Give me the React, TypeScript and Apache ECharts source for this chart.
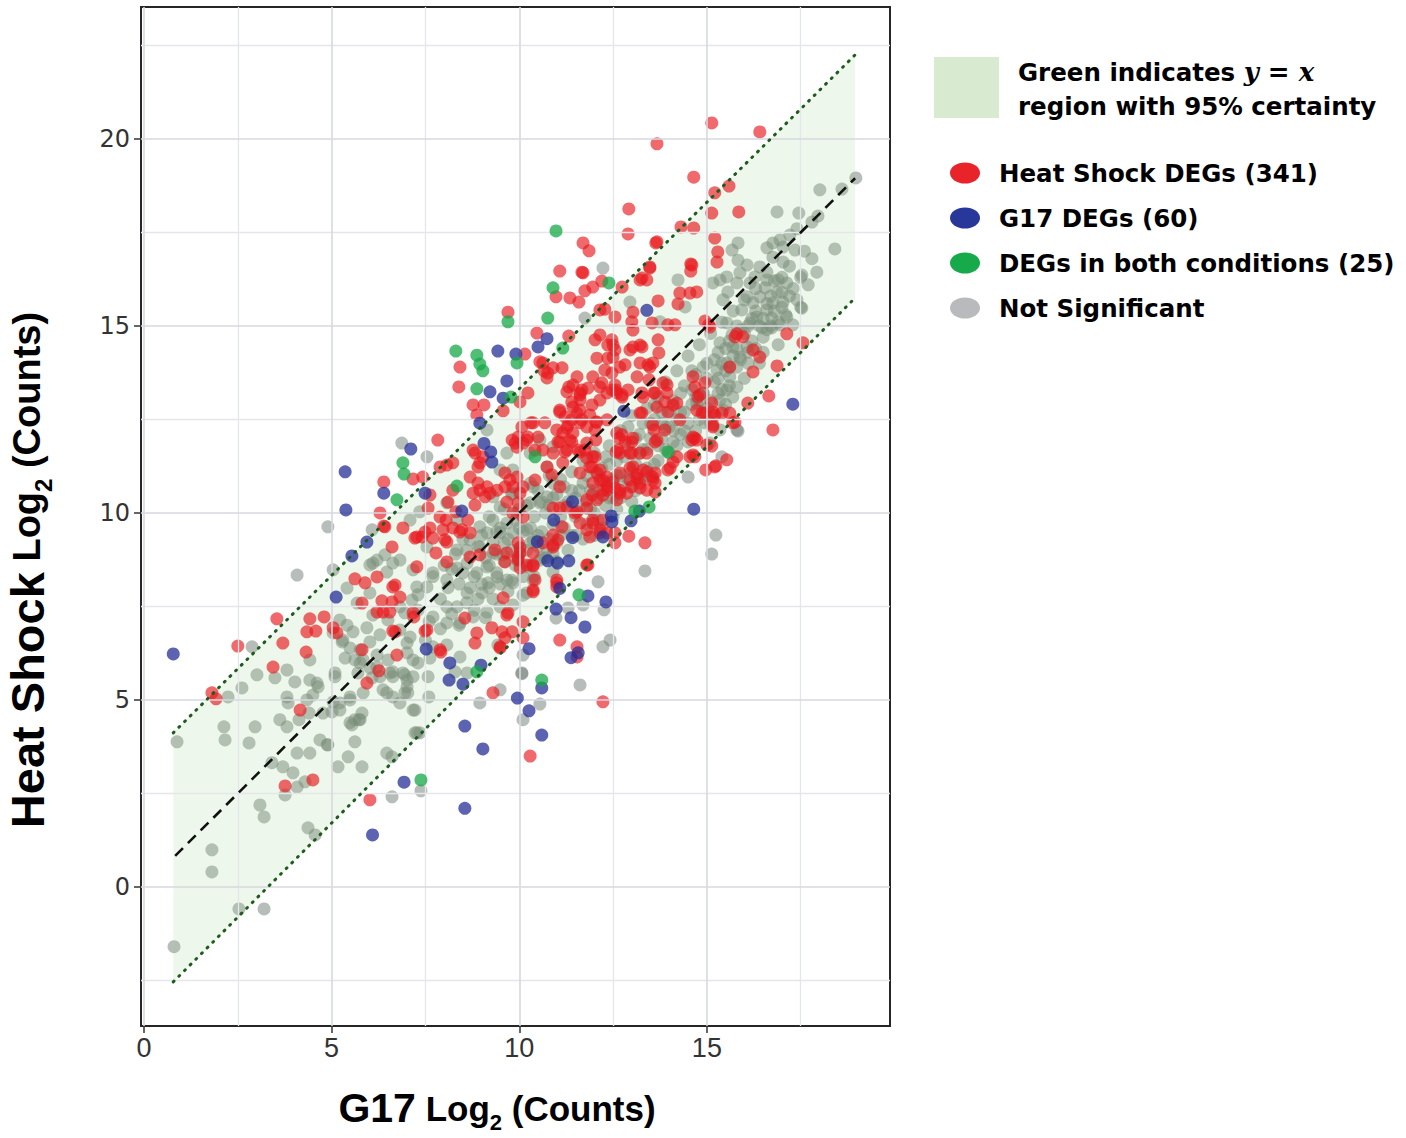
import React, { useEffect, useRef } from "react";
import * as echarts from "echarts";

// ---------- axes ----------
const xRange = [-0.08, 19.88];
const yRange = [-3.72, 23.53];
const xTickValues = [0, 5, 10, 15];
const yTickValues = [0, 5, 10, 15, 20];
const xMinorGrid = [2.5, 7.5, 12.5, 17.5];
const yMinorGrid = [-2.5, 2.5, 7.5, 12.5, 17.5, 22.5];

// ---------- y = x region ----------
const bandX = [0.78, 18.95];
const bandUpper = [4.12, 22.25];
const bandLower = [-2.54, 15.75];
const identityX = [0.83, 18.95];
const identityY = [0.83, 18.95];

// ---------- series names ----------
const nameHS = "Heat Shock DEGs (341)";
const nameG17 = "G17 DEGs (60)";
const nameBoth = "DEGs in both conditions (25)";
const nameNS = "Not Significant";

// ---------- points (G17 log2, Heat Shock log2) ----------
const heatShockDEGs: number[][] = [
  [13.67,19.87],[15.13,20.43],[16.41,20.19],[14.65,18.98],[15.21,18.56],[15.59,18.74],[15.13,18.02],[15.85,18.05],[12.92,18.13],[12.9,17.46],
  [13.67,17.25],[14.31,17.65],[14.65,17.62],[15.21,17.35],[15.29,16.98],[15.27,16.71],[14.57,16.66],[14.57,16.47],[13.48,16.55],[13.22,16.23],
  [13.4,16.23],[11.7,17.22],[11.86,17.01],[11.7,16.42],[11.96,16.04],[12.74,16.04],[13.7,15.67],[14.28,15.88],[14.55,15.88],[14.73,15.91],
  [14.23,15.59],[12.28,15.45],[12.55,15.24],[13.03,15.37],[13.0,15.11],[13.03,14.89],[13.54,15.08],[13.96,15.03],[14.15,15.03],[14.95,15.13],
  [15.08,14.97],[15.8,14.79],[15.96,14.71],[12.02,14.63],[12.47,14.63],[12.55,14.36],[12.95,14.36],[13.27,14.44],[13.7,14.63],[13.72,14.28],
  [13.43,13.96],[12.07,14.14],[12.36,14.14],[12.68,13.9],[13.14,13.64],[13.83,13.48],[13.3,13.1],[13.62,13.21],[12.6,13.21],[11.96,13.64],
  [14.63,13.64],[14.68,13.37],[14.95,13.48],[14.76,13.1],[15.13,12.94],[15.21,12.62],[15.61,12.67],[15.61,13.9],[16.23,14.36],[16.41,14.17],
  [16.23,13.77],[16.87,13.93],[17.13,14.79],[17.56,14.55],[16.65,13.13],[16.76,12.22],[16.09,12.94],[15.69,12.41],[15.53,11.42],[15.13,11.79],
  [15.16,12.3],[14.68,12.0],[14.68,11.5],[14.2,11.5],[13.67,11.95],[13.4,11.6],[13.0,11.6],[12.68,11.6],[12.74,12.09],[12.04,11.95],
  [11.75,11.68],[15.21,11.23],[13.88,12.22],[13.56,12.35],[13.22,12.67],[13.88,12.97],[13.96,12.7],[14.2,12.94],[14.73,12.75],[12.15,13.02],
  [11.08,16.47],[11.67,16.44],[12.2,16.2],[13.27,16.28],[13.48,16.58],[14.6,16.63],[10.98,15.78],[11.35,15.75],[11.59,15.64],[12.15,15.43],
  [15.05,15.03],[10.63,14.01],[10.9,13.88],[11.14,13.88],[10.76,13.74],[12.15,14.76],[12.36,14.49],[13.22,14.49],[13.22,14.01],[13.48,13.9],
  [12.28,13.82],[12.47,13.74],[12.2,13.48],[12.55,13.42],[12.74,13.1],[12.34,13.21],[11.62,13.21],[11.32,13.37],[11.4,12.97],[13.27,13.21],
  [13.94,13.42],[14.1,12.89],[15.16,12.7],[14.95,12.67],[15.4,12.67],[15.16,12.35],[15.75,12.43],[15.75,14.71],[14.63,12.03],[14.97,11.15],
  [11.08,12.7],[11.22,12.57],[11.54,12.67],[11.62,12.41],[11.88,12.62],[12.04,12.43],[11.0,12.22],[11.27,12.27],[11.43,12.14],[12.02,12.22],
  [11.4,11.9],[11.03,11.9],[11.27,11.68],[10.9,11.6],[11.62,11.63],[11.8,11.47],[11.88,11.23],[12.07,11.07],[12.23,10.88],[12.23,10.61],
  [12.5,10.83],[12.68,10.61],[12.87,10.53],[12.6,10.35],[12.07,10.35],[11.94,10.48],[13.0,11.9],[12.95,11.6],[13.22,11.6],[13.62,11.9],
  [12.95,11.2],[13.14,11.02],[13.4,11.1],[13.62,11.07],[13.56,10.88],[13.22,10.8],[13.4,10.61],[13.62,10.56],[14.1,11.36],[13.96,11.15],
  [14.55,11.5],[14.73,11.95],[10.9,10.13],[10.74,11.23],
  [13.64,17.22],[11.75,15.94],[9.7,15.37],[10.47,14.81],[11.32,14.73],[10.15,14.25],[8.42,13.9],[8.39,13.37],[10.55,14.04],[10.66,13.8],
  [10.74,13.61],[10.23,13.21],[10.02,12.97],[8.77,12.89],[9.06,12.89],[8.87,12.62],[9.57,12.73],[12.5,14.49],[12.5,14.17],[12.82,13.96],
  [13.03,14.44],[13.56,14.01],[13.46,13.56],[11.54,13.64],[11.67,13.29],[12.15,13.37],[11.43,13.42],[11.27,13.24],[11.62,13.02],[12.47,13.29],
  [12.74,13.16],[11.43,12.83],[11.67,12.49],[11.4,12.49],[11.08,12.75],[10.68,12.41],[10.37,12.41],[10.07,12.3],[9.97,12.03],[10.23,12.03],
  [10.5,12.03],[9.81,11.95],[9.94,11.76],[10.1,11.87],[10.42,11.68],[10.63,11.68],[8.77,11.68],[9.03,11.5],[8.9,11.23],[8.69,10.96],
  [8.9,10.8],[9.14,10.7],[8.77,10.53],[9.09,10.43],[9.62,11.07],[9.75,10.88],[9.83,10.7],[10.02,10.53],[9.97,10.27],[9.83,10.0],
  [10.42,10.88],[10.87,11.02],[11.16,11.34],[11.16,12.14],[11.35,11.95],[11.8,11.87],[12.34,12.49],[12.6,12.14],[12.63,11.68],[13.03,11.23],
  [12.95,10.88],[12.68,11.07],[12.34,10.96],[11.96,10.8],[12.34,10.61],[12.68,10.53],[11.96,11.5],[11.62,11.07],[11.08,10.7],[11.27,10.16],
  [11.48,10.0],[11.8,10.13],[11.96,9.73],[12.23,9.81],[12.15,9.47],[11.8,9.55],[11.14,9.63],[10.9,9.41],[10.1,9.89],[8.23,10.61],
  [7.89,9.89],[7.57,10.13],[7.97,9.55],[8.42,9.49],[8.63,9.81],[8.31,10.03],[7.49,9.49],[7.83,11.95],[7.89,11.23],
  [8.82,11.6],[8.95,11.34],[8.23,11.34],[7.43,10.96],[7.17,10.91],[6.39,10.83],[7.62,10.48],[8.1,10.29],[8.05,9.81],[8.47,9.55],
  [8.69,9.47],[8.23,9.6],[7.62,9.6],[7.41,9.36],[7.7,9.33],[7.22,9.33],[8.02,9.28],[6.9,9.6],[6.39,9.65],[6.61,9.09],
  [7.27,8.56],[8.07,8.69],[8.69,8.82],[8.95,8.88],[9.35,9.01],[8.82,10.21],[8.95,10.61],[9.22,10.53],[9.41,10.61],[9.62,10.7],
  [9.94,10.96],[10.1,10.7],[9.67,10.29],[9.97,9.2],[10.02,8.93],[10.37,8.93],[9.97,8.74],[10.2,8.61],[10.37,8.58],[10.42,8.21],
  [11.0,8.21],[11.0,8.02],[10.9,9.09],[11.03,9.28],[11.62,9.73],[11.88,9.36],[11.8,8.61],[6.63,8.02],[6.61,7.62],[6.82,7.75],
  [7.17,7.33],[7.54,6.87],[7.89,6.34],[8.55,7.19],[8.87,6.79],[8.82,6.52],[9.27,6.93],[9.54,6.82],[9.62,6.66],[9.81,6.82],
  [9.67,7.27],[10.1,7.09],[10.37,7.89],[11.08,6.6],[10.1,6.66],[6.69,6.82],[6.37,7.35],
  [8.07,11.28],[6.29,10.0],[6.42,9.63],[7.27,9.36],[7.78,8.93],[8.07,9.22],[6.69,8.07],[6.21,8.29],[5.62,8.24],[5.89,8.13],
  [5.81,7.59],[6.34,7.65],[6.55,7.35],[6.21,7.35],[4.42,7.17],[4.8,7.22],[4.34,6.82],[4.58,6.84],[5.04,6.93],[5.14,6.79],
  [4.32,6.28],[5.81,6.34],[7.19,7.22],[6.74,6.2],[7.49,6.84],[6.26,5.78],[5.94,5.45],[4.5,2.86],[6.02,2.33],[9.49,6.39],
  [7.91,6.28],[9.3,5.19],[10.29,3.5],[4.16,4.73],[3.54,7.17],[2.5,6.44],[3.7,6.52],[3.44,5.88],[1.81,5.19],[1.92,5.03],
  [3.76,2.7],[6.63,6.84],
  [11.62,13.16],[11.83,13.34],[12.58,13.29],[12.9,13.29],[13.59,13.21],[13.94,13.21],[13.27,12.67],[13.67,12.83],[14.81,13.16],[14.87,12.67],
  [11.62,12.75],[11.94,12.89],[12.07,12.43],[11.3,12.35],[11.8,12.3],[10.31,12.41],[9.89,11.87],[10.2,11.95],[11.08,11.9],[11.22,11.63],
  [11.56,11.68],[12.02,11.5],[11.94,11.23],[12.15,11.15],[12.58,11.63],[12.82,11.9],[13.03,12.0],[13.59,12.22],[12.66,12.0],[13.3,11.15],
  [13.56,10.96],[13.62,10.8],[14.02,11.2],[13.14,10.93],[13.0,10.7],[13.22,10.67],[12.55,10.67],[12.34,10.7],[12.15,10.88],[12.23,10.48],
  [11.8,10.35],[11.54,10.03],[11.96,9.81],[12.15,9.55],[12.34,9.47],[12.55,9.47],[12.55,9.2],[12.92,9.38],[13.35,9.2],[11.08,10.13],
  [10.9,9.14],[10.63,9.2],[10.02,9.06],[9.97,8.8],[9.67,8.93],[9.62,8.69],[10.02,8.53],[10.37,8.61],[11.83,8.61],[11.0,8.13],
  [10.37,7.94],[9.57,7.73],[9.7,7.33],[11.54,6.42],[11.54,6.15],[9.49,6.42],[14.28,12.49],[14.6,11.95],[14.63,11.55],[15.0,11.82],
  [15.24,11.26],[12.23,4.95]
];

const g17DEGs: number[][] = [
  [0.78,6.23],[5.36,11.1],[5.38,10.08],[5.94,9.22],[5.54,8.85],[5.12,7.75],[6.39,10.53],[7.11,11.71],[7.49,10.53],[8.47,10.05],
  [8.95,12.4],[9.06,11.86],[9.24,11.63],[9.27,11.36],[9.43,14.33],[9.91,14.25],[10.5,14.44],[10.74,14.66],[9.67,13.53],[9.22,13.24],
  [9.57,13.07],[13.4,15.42],[12.79,12.72],[11.42,10.3],[10.92,9.81],[10.48,9.23],[11.42,9.34],[10.76,8.72],[11.02,8.66],[11.32,8.72],
  [12.47,9.76],[12.45,9.92],[12.98,9.79],[12.23,9.36],[14.65,10.1],[11.08,7.98],[11.83,7.78],[12.31,7.62],[10.98,7.43],[11.38,7.2],
  [11.75,6.95],[10.26,6.37],[11.57,6.26],[11.38,6.13],[10.6,5.32],[9.95,5.05],[10.26,4.71],[10.6,4.06],[8.55,4.3],[9.03,3.69],
  [6.93,2.8],[8.55,2.1],[6.09,1.39],[7.52,6.36],[8.15,5.99],[8.13,5.53],[8.5,5.42],[8.98,5.93],[17.29,12.91],[13.2,10.05]
];

const bothDEGs: number[][] = [
  [10.98,17.54],[12.39,16.15],[10.9,16.02],[9.7,15.11],[10.76,15.21],[8.31,14.33],[8.87,14.22],[8.95,13.98],[9.03,13.8],[9.94,14.01],
  [11.16,14.41],[8.87,13.32],[9.78,13.1],[10.42,11.5],[8.34,10.72],[13.46,10.16],[13.08,10.05],[6.9,11.34],[6.93,11.04],[6.74,10.35],
  [8.87,5.75],[10.6,5.53],[7.38,2.86],[13.96,11.63],[11.59,7.81]
];

const notSignificant: number[][] = [
  [18.97,18.96],[18.01,18.64],[18.6,18.66],[16.87,18.05],[17.45,18.02],[17.8,17.78],[17.21,17.43],[16.95,17.3],[16.76,17.22],[16.6,17.09],
  [17.03,17.11],[18.41,17.06],[17.35,17.03],[16.76,16.84],[15.83,17.22],[15.67,17.03],[15.83,16.76],[16.07,16.63],[16.41,16.58],[17.03,16.71],
  [16.6,16.44],[17.53,16.36],[17.93,16.44],[16.9,16.23],[16.6,16.23],[16.28,16.31],[16.15,16.15],[15.88,16.42],[15.53,16.31],[15.35,16.23],
  [15.16,16.15],[14.23,16.23],[16.55,16.02],[16.87,15.91],[17.13,16.15],[16.41,15.78],[16.23,15.62],[16.76,15.62],[17.03,15.64],[17.53,15.48],
  [16.6,15.43],[16.33,15.24],[16.73,15.21],[17.13,15.24],[17.29,15.03],[16.95,15.03],[16.15,15.08],[16.47,14.95],[16.73,14.95],[15.93,15.43],
  [16.07,15.78],[15.8,16.15],[15.56,15.91],[15.43,15.7],[15.53,15.08],[15.67,14.76],[15.35,14.55],[15.69,14.44],[16.07,14.44],[15.88,14.17],
  [15.53,14.01],[15.27,13.82],[15.61,13.64],[15.8,13.37],[15.53,13.29],[15.69,13.1],[15.35,13.02],[15.43,12.75],[14.9,13.21],[14.73,12.94],
  [14.95,12.41],[15.35,12.22],[15.8,12.22],[15.08,11.87],[12.23,16.55],[11.75,15.21],[12.95,15.64],[14.42,15.51],[13.75,15.11],[17.96,17.94],
  [4.08,8.34],[5.04,8.48],[2.88,6.42],[3.01,5.67],[2.61,5.32],[2.24,5.08],[3.81,5.8],[3.49,5.59],[4.02,5.48],[4.42,6.07],
  [4.61,5.45],[3.81,5.08],[3.84,4.92],[4.5,5.13],[4.13,4.47],[3.62,4.47],[3.81,4.28],[2.13,4.28],[2.16,3.93],[2.96,4.28],
  [2.8,3.85],[0.88,3.88],[4.4,4.65],[4.08,3.58],[4.42,3.58],[4.69,3.93],[4.88,3.8],[5.17,3.21],[5.44,3.48],[5.81,3.21],
  [5.62,3.88],[5.49,4.39],[5.73,4.47],[6.47,3.58],[6.61,3.48],[7.22,4.12],[7.17,4.73],[3.41,3.32],[3.7,3.21],[3.97,3.05],
  [4.29,2.81],[4.08,2.67],[3.76,2.46],[3.09,2.19],[3.2,1.87],[4.37,1.58],[4.56,1.39],[1.81,0.99],[1.81,0.4],[2.53,-0.59],
  [3.2,-0.59],[0.8,-1.6],[6.61,2.41],
  [5.41,7.99],[5.22,7.14],[5.41,7.0],[5.57,6.82],[5.28,6.55],[5.49,6.39],[5.36,6.12],[5.62,6.07],[5.76,6.34],[6.02,6.55],
  [6.21,6.2],[6.02,5.86],[6.29,5.62],[6.5,6.07],[6.63,5.62],[6.9,5.72],[7.01,5.35],[6.47,5.19],[6.63,5.08],[6.95,5.19],
  [5.04,4.95],[5.22,4.92],[5.49,5.08],[5.01,4.68],[6.82,7.49],[6.95,7.33],[6.5,7.14],[6.1,7.27],[5.94,6.93],[6.29,6.74],
  [6.82,6.87],[7.09,6.68],[7.01,6.26],[7.17,6.07],[5.68,7.59],[6.02,7.86],[6.47,8.42],[6.1,8.66],[6.63,8.66],[7.17,8.48],
  [7.27,8.02],[7.14,7.67],
  [5.09,5.72],[5.76,5.99],[5.7,5.72],[6.08,5.59],[6.37,5.27],[6.63,5.75],[6.95,5.67],[7.17,5.62],[7.59,5.08],[5.76,4.47],
  [5.54,4.33],[4.9,3.8],[7.35,4.12],[7.38,2.57],[8.95,4.92],[10.07,5.7],[10.1,4.47],[10.55,4.89],[11.62,5.4],[7.01,6.52],
  [7.62,6.12],[7.7,6.42],[8.07,6.47],[8.42,6.15],[8.29,5.75],[8.61,5.72],[9.43,6.47],[10.1,6.2],
  [15.24,9.41],[15.13,8.9],[13.35,8.45],[12.1,8.16],[14.5,10.96],[15.83,12.19],[15.4,11.5],[12.26,7.41],[11.7,7.54],[11.3,7.46],
  [10.98,7.19],[12.42,6.6],[12.23,6.42],[10.07,5.72],[9.49,5.27],
  [6.87,11.87],[7.54,11.5],[4.9,9.63],[6.08,9.55],[7.35,10.03],[8.07,10.27],[8.34,9.81],[7.09,9.81],[6.82,8.74],[6.42,8.88],
  [6.21,8.74],[6.02,8.61],[7.54,9.09],[7.7,8.4],[8.07,8.21],[7.54,8.02],[7.3,7.81],[8.34,8.53],[8.61,8.66],[8.87,8.4],
  [9.14,8.56],[9.41,8.29],[9.67,8.21],[9.17,8.13],[9.01,7.86],[8.61,7.86],[8.34,7.49],[8.07,7.49],[7.7,7.22],[8.07,7.06],
  [8.42,7.06],[8.77,7.22],[9.14,7.35],[9.49,7.49],[9.83,7.54],[10.2,7.86],[9.83,8.13],[10.37,8.21],[10.9,8.42],[10.55,8.74],
  [10.2,8.56],[9.94,8.74],[9.57,8.88],[9.3,8.93],[8.95,9.09],[8.69,9.28],[8.34,9.01],[9.14,9.47],[9.49,9.47],[9.83,9.47],
  [9.67,9.73],[9.3,9.81],[8.95,9.63],[10.2,9.55],[10.37,9.28],[10.02,9.09],[10.74,9.01],[10.55,10.27],[10.29,10.27],[9.94,10.0],
  [9.49,10.16],[9.3,10.43],[9.83,10.53],[10.37,10.7],[10.74,10.43],[9.49,11.15],[9.83,11.15],[9.67,11.6],[10.29,11.6],[10.74,11.23],
  [10.9,10.8],[10.55,11.95],[10.9,11.77],[9.14,12.22],
  [5.04,6.79],[5.3,6.6],[5.84,6.07],[6.21,5.88],[6.55,5.72],[7.01,5.53],[7.3,5.99],[7.57,5.62],[7.03,5.19],[6.82,4.92],
  [7.22,4.73],[5.09,5.62],[4.64,5.35],[4.42,5.53],[4.34,5.0],[4.77,4.65],[5.22,4.73],[5.62,4.47],[5.81,4.65],[7.27,4.12],
  [5.49,5.0],[5.84,5.19],
  [7.6,7.1],[7.9,7.7],[8.2,7.3],[8.4,8.1],[8.6,7.6],[8.8,8.3],[8.9,7.7],[9.1,8.8],[9.2,8.0],[9.3,9.2],
  [9.4,8.4],[9.5,9.6],[9.6,8.7],[9.7,9.3],[9.8,8.2],[9.9,9.8],[10.0,8.9],[10.1,9.5],[10.2,10.2],[10.3,8.6],
  [10.3,9.2],[10.4,9.9],[10.5,10.6],[10.6,9.5],[10.7,8.8],[10.8,10.2],[10.9,9.7],[11.0,10.5],[11.0,9.2],[11.1,10.9],
  [11.2,9.6],[11.3,10.3],[11.4,11.1],[11.5,9.9],[11.6,10.6],[11.7,9.3],[11.8,11.0],[11.9,10.1],[12.0,11.6],[12.0,10.6],
  [12.1,9.8],[12.2,11.2],[12.3,10.2],[12.4,11.8],[12.5,10.9],[12.5,9.9],[12.6,11.4],[12.7,12.2],[12.8,10.7],[12.9,11.8],
  [13.0,12.6],[13.0,10.3],[13.1,11.3],[13.2,12.1],[13.3,10.9],[13.4,12.8],[13.4,11.7],[13.5,12.4],[13.6,11.3],[13.7,13.1],
  [13.8,12.0],[13.8,12.7],[13.9,13.5],[14.0,11.6],[14.0,12.3],[14.1,13.0],[14.2,13.8],[14.3,12.1],[14.3,12.7],[14.4,13.4],
  [14.5,14.2],[14.5,11.9],[14.6,12.9],[14.7,13.7],[14.8,12.5],[14.8,14.5],[14.9,13.2],[15.0,14.0],[15.0,12.8],[15.1,14.8],
  [15.2,13.5],[15.2,12.6],[15.3,14.3],[15.4,15.1],[15.5,13.8],[15.5,12.9],[15.6,14.6],[15.7,15.4],[15.8,13.9],[15.9,14.9],
  [16.0,15.7],[16.0,13.6],[16.1,14.3],[16.2,15.2],[16.3,16.0],[16.4,14.0],[16.5,14.7],[16.6,15.6],[16.8,16.2],[16.9,14.5],
  [17.0,15.9],[17.2,16.6],[17.4,15.7],[17.6,17.0],[17.8,16.8],[17.4,17.6],
  [8.0,8.6],[8.3,8.9],[8.5,9.3],[8.7,8.0],[9.0,9.4],[9.2,9.9],[9.4,8.9],[9.6,10.1],[9.8,10.5],[10.0,10.1],
  [10.1,8.3],[10.3,10.8],[10.5,9.1],[10.6,10.3],[10.8,11.0],[10.9,8.9],[11.1,9.9],[11.2,10.7],[11.4,9.4],[11.5,10.4],
  [11.7,11.4],[11.8,10.3],[12.0,9.4],[12.1,11.0],[12.3,11.5],[12.4,10.4],[12.6,10.1],[12.7,11.0],[12.9,12.3],[13.1,10.6],
  [13.2,11.6],[13.3,12.4],[13.5,11.0],[13.6,12.9],[13.7,11.8],[13.9,12.3],[14.1,11.9],[14.2,12.5],[14.4,12.2],[14.6,13.3],
  [14.7,12.2],[14.9,13.9],[15.1,13.0],[15.3,13.2],[15.4,14.0],[15.6,13.4],[15.8,14.4],[16.1,15.0],[16.3,14.4],[16.5,15.2],
  [16.7,15.0],[17.0,15.5],[17.2,15.8],[17.5,16.3],
  [7.3,7.4],[7.5,6.6],[7.7,8.3],[7.9,6.9],[8.1,8.0],[8.2,8.5],[8.4,7.0],[8.5,8.4],[8.6,9.0],[8.8,7.4],
  [8.9,9.1],[9.0,8.1],[9.1,7.2],[9.2,8.6],[9.3,7.7],[9.4,9.5],[9.5,8.1],[9.6,9.2],[9.7,7.9],[9.8,9.0],
  [9.9,8.6],[10.0,9.6],[10.1,7.8],[10.2,9.0],[10.3,9.6],[10.4,8.3],[10.5,9.4],[10.6,8.8],[10.7,10.0],[10.8,9.3],
  [10.9,10.4],[11.0,8.7],[11.1,9.4],[11.2,10.2],[11.3,9.0],[11.4,10.6],[11.5,9.4],[11.6,10.1],[11.7,10.8],[11.8,9.7],
  [11.9,10.6],[12.0,10.0],[12.1,10.4],[12.2,9.6],[12.3,10.8],[12.4,11.3],[12.5,10.4],[12.6,11.0],[12.7,10.4],[12.8,11.5],
  [12.9,10.9],[13.0,11.1],[13.1,12.0],[13.2,10.9],[13.3,11.7],[13.4,11.2],[13.5,12.0],[13.6,12.5],[13.7,11.4],[13.8,12.4],
  [13.9,11.7],[14.0,12.7],[14.1,12.2],[14.2,11.8],[14.3,13.2],[14.4,12.7],[14.5,12.4],[14.6,13.8],[14.7,13.1],[14.8,13.0],
  [14.9,12.7],[15.0,13.6],[15.1,12.4],[15.2,14.1],[15.3,13.6],[15.4,13.3],[15.5,14.4],[15.6,13.9],[15.7,14.2],[15.8,15.0],
  [15.9,14.1],[16.0,14.8],[16.1,14.0],[16.2,14.6],[16.3,15.4],[16.4,15.0],[16.5,14.3],[16.6,14.9],[16.7,15.8],[16.8,15.4],
  [16.9,15.1],[17.0,16.3],[17.1,15.3],[17.3,16.0],[17.5,15.5],[17.7,16.1]
];

// ---------- colours ----------
const colHS = "rgba(232,26,30,0.82)";
const colG17 = "rgba(36,46,150,0.93)";
const colBoth = "rgba(22,168,70,0.93)";
const colNS = "rgba(114,129,119,0.64)";

const App: React.FC = () => {
  const ref = useRef<HTMLDivElement | null>(null);

  useEffect(() => {
    document.body.style.margin = "0";
    if (!ref.current) return;
    const chart = echarts.init(ref.current, undefined, { renderer: "svg" });

    const isMult5 = (v: number) => Math.abs(v / 5 - Math.round(v / 5)) < 1e-6;

    const gridLines: any[] = [
      ...xMinorGrid.map((v) => ({ xAxis: v })),
      ...yMinorGrid.map((v) => ({ yAxis: v })),
      ...xTickValues.map((v) => ({ xAxis: v, lineStyle: { color: "#d7d8e0", width: 1.6 } })),
      ...yTickValues.map((v) => ({ yAxis: v, lineStyle: { color: "#d7d8e0", width: 1.6 } })),
    ];

    const sansTitle = "'Liberation Sans', Arial, Helvetica, sans-serif";
    const ptSize = 13;

    const option: any = {
      animation: false,
      backgroundColor: "#ffffff",
      grid: {
        left: 141,
        top: 7,
        width: 749,
        height: 1019,
        show: true,
        borderColor: "#262626",
        borderWidth: 2,
        backgroundColor: "transparent",
      },
      xAxis: {
        type: "value",
        min: xRange[0],
        max: xRange[1],
        splitNumber: 4,
        minInterval: 5,
        maxInterval: 5,
        axisLine: { show: false, onZero: false },
        axisTick: {
          show: true,
          length: 7,
          customValues: xTickValues,
          lineStyle: { color: "#333", width: 1.5 },
        },
        axisLabel: {
          customValues: xTickValues,
          formatter: (v: number) => (isMult5(v) ? String(Math.round(v)) : ""),
          color: "#333",
          fontSize: 27,
          fontFamily: "'Liberation Sans Narrow', 'Arial Narrow', 'Liberation Sans', sans-serif",
          margin: 8,
        },
        splitLine: { show: false },
      },
      yAxis: {
        type: "value",
        min: yRange[0],
        max: yRange[1],
        splitNumber: 5,
        minInterval: 5,
        maxInterval: 5,
        axisLine: { show: false, onZero: false },
        axisTick: {
          show: true,
          length: 7,
          customValues: yTickValues,
          lineStyle: { color: "#333", width: 1.5 },
        },
        axisLabel: {
          customValues: yTickValues,
          formatter: (v: number) => (isMult5(v) ? String(Math.round(v)) : ""),
          color: "#333",
          fontSize: 24,
          fontFamily: "'DejaVu Sans', sans-serif",
          margin: 11,
        },
        splitLine: { show: false },
      },
      legend: {
        orient: "vertical",
        left: 950,
        top: 158,
        padding: 0,
        itemWidth: 30,
        itemHeight: 21,
        itemGap: 15,
        selectedMode: false,
        icon: "path://M0,10.5 A15,10.5 0 1,1 30,10.5 A15,10.5 0 1,1 0,10.5 Z",
        textStyle: {
          fontFamily: "'DejaVu Sans', sans-serif",
          fontWeight: "bold",
          fontSize: 24.5,
          color: "#000",
          lineHeight: 30,
          padding: [0, 0, 0, 14],
        },
        data: [
          { name: nameHS, itemStyle: { color: "#e8232a", opacity: 1 } },
          { name: nameG17, itemStyle: { color: "#28379a", opacity: 1 } },
          { name: nameBoth, itemStyle: { color: "#17aa4a", opacity: 1 } },
          { name: nameNS, itemStyle: { color: "#b9babd", opacity: 1 } },
        ],
      },
      graphic: [
        {
          type: "rect",
          shape: { x: 934, y: 57, width: 65, height: 61 },
          style: { fill: "#d8eacf" },
        },
        {
          type: "text",
          x: 1018,
          y: 55,
          style: {
            text: "{a|Green indicates }{m|y = x}\n{a|region with 95% certainty}",
            align: "left",
            verticalAlign: "top",
            rich: {
              a: {
                fontFamily: "'DejaVu Sans', sans-serif",
                fontWeight: "bold",
                fontSize: 24.5,
                lineHeight: 34,
                fill: "#000",
              },
              m: {
                fontFamily: "'DejaVu Serif', serif",
                fontStyle: "italic",
                fontWeight: "bold",
                fontSize: 26,
                lineHeight: 34,
                fill: "#000",
              },
            },
          },
        },
        {
          type: "text",
          x: 497,
          y: 1108,
          style: {
            text: "{g|G17}{l| Log}{s|2}{l| (Counts)}",
            align: "center",
            verticalAlign: "middle",
            rich: {
              g: { fontFamily: sansTitle, fontWeight: "bold", fontSize: 41, lineHeight: 50, fill: "#000", verticalAlign: "middle" },
              l: { fontFamily: sansTitle, fontWeight: "bold", fontSize: 35, lineHeight: 50, fill: "#000", verticalAlign: "middle" },
              s: { fontFamily: sansTitle, fontWeight: "bold", fontSize: 22, lineHeight: 22, fill: "#000", verticalAlign: "bottom" },
            },
          },
        },
        {
          type: "text",
          x: 27,
          y: 570,
          rotation: Math.PI / 2,
          style: {
            text: "{h|Heat Shock}{l| Log}{s|2}{l| (Counts)}",
            align: "center",
            verticalAlign: "middle",
            rich: {
              h: { fontFamily: sansTitle, fontWeight: "bold", fontSize: 47, lineHeight: 56, fill: "#000", verticalAlign: "middle" },
              l: { fontFamily: sansTitle, fontWeight: "bold", fontSize: 38, lineHeight: 56, fill: "#000", verticalAlign: "middle" },
              s: { fontFamily: sansTitle, fontWeight: "bold", fontSize: 24, lineHeight: 24, fill: "#000", verticalAlign: "bottom" },
            },
          },
        },
      ],
      series: [
        {
          type: "line",
          name: "gridlines",
          data: [],
          silent: true,
          z: 1,
          markLine: {
            silent: true,
            symbol: ["none", "none"],
            label: { show: false },
            lineStyle: { color: "#e5e6eb", width: 1.3, type: "solid" },
            emphasis: { disabled: true },
            data: gridLines,
          },
        },
        {
          type: "scatter",
          name: nameNS,
          data: notSignificant,
          symbolSize: ptSize,
          itemStyle: { color: colNS },
          silent: true,
          z: 2,
        },
        {
          type: "custom",
          name: "band",
          silent: true,
          z: 3,
          data: [[bandX[0], bandLower[0]]],
          renderItem: (_params: any, api: any) => {
            const p1 = api.coord([bandX[0], bandUpper[0]]);
            const p2 = api.coord([bandX[1], bandUpper[1]]);
            const p3 = api.coord([bandX[1], bandLower[1]]);
            const p4 = api.coord([bandX[0], bandLower[0]]);
            return {
              type: "polygon",
              shape: { points: [p1, p2, p3, p4] },
              style: { fill: "rgba(150,205,132,0.16)" },
            };
          },
        },
        {
          type: "scatter",
          name: nameHS,
          data: heatShockDEGs,
          symbolSize: ptSize,
          itemStyle: { color: colHS },
          silent: true,
          z: 4,
        },
        {
          type: "scatter",
          name: nameG17,
          data: g17DEGs,
          symbolSize: ptSize,
          itemStyle: { color: colG17 },
          silent: true,
          z: 5,
        },
        {
          type: "scatter",
          name: nameBoth,
          data: bothDEGs,
          symbolSize: ptSize,
          itemStyle: { color: colBoth },
          silent: true,
          z: 6,
        },
        {
          type: "line",
          name: "upper",
          data: [[bandX[0], bandUpper[0]], [bandX[1], bandUpper[1]]],
          symbol: "none",
          silent: true,
          z: 8,
          lineStyle: { color: "#1c5c1c", width: 3, type: [1, 7], cap: "round" },
        },
        {
          type: "line",
          name: "lower",
          data: [[bandX[0], bandLower[0]], [bandX[1], bandLower[1]]],
          symbol: "none",
          silent: true,
          z: 8,
          lineStyle: { color: "#1c5c1c", width: 3, type: [1, 7], cap: "round" },
        },
        {
          type: "line",
          name: "identity",
          data: [[identityX[0], identityY[0]], [identityX[1], identityY[1]]],
          symbol: "none",
          silent: true,
          z: 8,
          lineStyle: { color: "#111", width: 2.6, type: [11, 7] },
        },
      ],
    };

    chart.setOption(option);
    return () => {
      chart.dispose();
    };
  }, []);

  return <div ref={ref} style={{ width: "1406px", height: "1138px" }} />;
};

export default App;
